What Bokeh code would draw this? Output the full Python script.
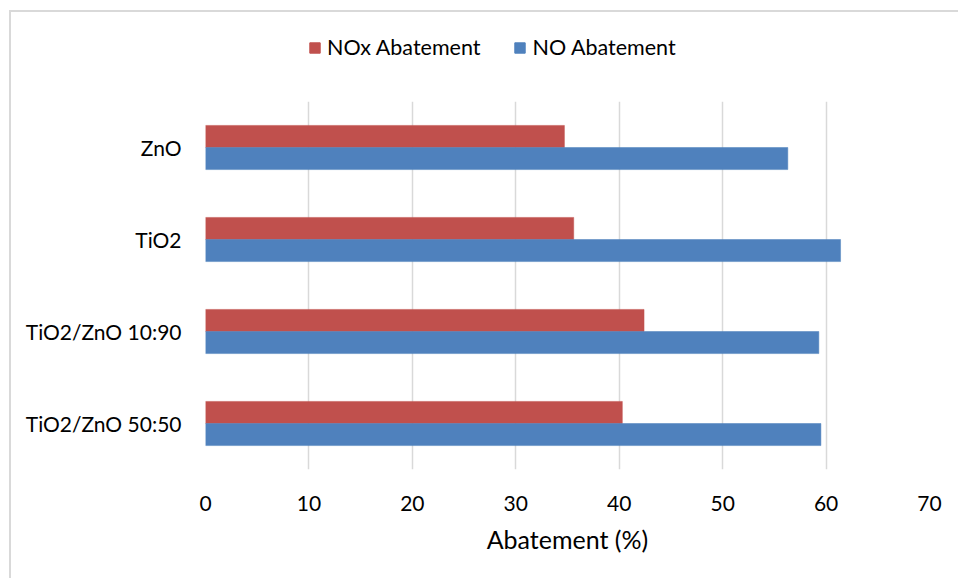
from bokeh.plotting import figure
from bokeh.models import ColumnDataSource, FactorRange, Range1d, Legend, LegendItem, FixedTicker
from bokeh.layouts import column
from bokeh.transform import dodge
from bokeh.embed import file_html
from bokeh.resources import INLINE

categories = ["ZnO", "TiO2", "TiO2/ZnO 10:90", "TiO2/ZnO 50:50"]
nox_abatement = [34.7, 35.6, 42.4, 40.3]
no_abatement = [56.3, 61.4, 59.3, 59.5]
x_ticks = [0, 10, 20, 30, 40, 50, 60, 70]

FONT = "Lato"
RED = "#C0504D"
BLUE = "#4F81BD"

src = ColumnDataSource(dict(cat=categories, nox=nox_abatement, no=no_abatement))

# ---- legend strip (top) ----
leg = figure(width=947, height=89, x_range=Range1d(0, 1), y_range=Range1d(0, 1),
             output_backend="svg", toolbar_location=None,
             min_border=0, min_border_left=0, min_border_right=0,
             min_border_top=0, min_border_bottom=0)
leg.axis.visible = False
leg.grid.visible = False
leg.outline_line_color = None
leg.border_fill_color = "white"
# legend-only renderers (hidden; they only provide the legend swatches)
l_nox = leg.hbar(y="nox", right="nox", left=0, height=0.1, source=src,
                 fill_color=RED, line_color=RED, visible=False)
l_no = leg.hbar(y="no", right="no", left=0, height=0.1, source=src,
                fill_color=BLUE, line_color=BLUE, visible=False)
legend = Legend(
    items=[LegendItem(label="NOx Abatement", renderers=[l_nox]),
           LegendItem(label="NO Abatement", renderers=[l_no])],
    orientation="horizontal", location=(103, 41), click_policy="none",
    glyph_width=13, glyph_height=13, label_standoff=6, spacing=33,
    padding=0, margin=0, border_line_alpha=0, background_fill_alpha=0,
    label_text_font=FONT, label_text_font_size="21.5px", label_text_color="#000000",
)
leg.add_layout(legend, "center")

# ---- main chart ----
p = figure(
    width=947, height=477,
    y_range=FactorRange(*list(reversed(categories))),
    x_range=Range1d(0, 70),
    output_backend="svg", toolbar_location=None,
    min_border_left=194, min_border_right=29, min_border_top=0, min_border_bottom=109,
)
p.outline_line_color = None
p.background_fill_color = "white"
p.border_fill_color = "white"

p.hbar(y=dodge("cat", 0.12, range=p.y_range), right="nox", left=0, height=0.24,
       source=src, fill_color=RED, line_color=RED, line_width=0.5)
p.hbar(y=dodge("cat", -0.12, range=p.y_range), right="no", left=0, height=0.24,
       source=src, fill_color=BLUE, line_color=BLUE, line_width=0.5)

p.ygrid.grid_line_color = None
p.xgrid.grid_line_color = "#D9D9D9"
p.xgrid.grid_line_width = 1.5
p.xaxis.ticker = FixedTicker(ticks=x_ticks)

for ax in (p.xaxis[0], p.yaxis[0]):
    ax.axis_line_color = None
    ax.major_tick_line_color = None
    ax.minor_tick_line_color = None
    ax.major_label_text_font = FONT
    ax.major_label_text_font_size = "21px"
    ax.major_label_text_color = "#000000"

p.xaxis.major_label_standoff = 20
p.yaxis.major_label_standoff = 18
p.xaxis.axis_label = "Abatement (%)"
p.xaxis.axis_label_text_font = FONT
p.xaxis.axis_label_text_font_size = "25px"
p.xaxis.axis_label_text_font_style = "normal"
p.xaxis.axis_label_text_color = "#000000"
p.xaxis.axis_label_standoff = 10

layout = column(leg, p, spacing=0)
layout.styles = {"margin-left": "9px", "margin-top": "10px",
                 "border-left": "2px solid #D9D9D9", "border-top": "2px solid #D9D9D9"}

open("out.html", "w").write(file_html(layout, INLINE))
